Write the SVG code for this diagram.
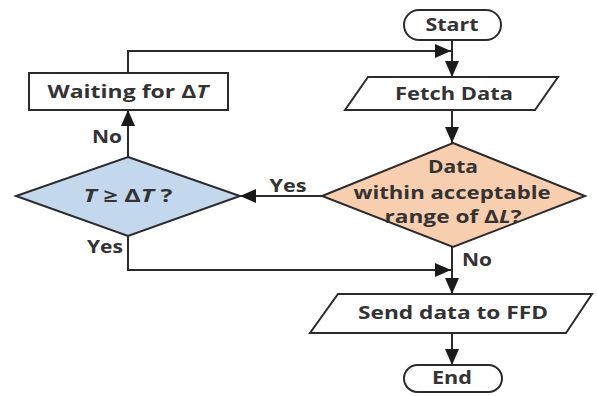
<svg xmlns="http://www.w3.org/2000/svg" width="597" height="396" viewBox="0 0 597 396">
  <style>
    .shape { stroke: #2b2b2b; stroke-width: 2; }
    .plain { fill: #ffffff; }
    .blue { fill: #c3d8ec; }
    .orange { fill: #f7cfae; }
    .wire { fill: none; stroke: #2b2b2b; stroke-width: 2; }
    .label { font-family: "Open Sans", "Liberation Sans", sans-serif; font-weight: bold; font-size: 18px; fill: #333333; text-anchor: middle; }
    .it { font-style: italic; }
  </style>
  <defs>
    <marker id="arrow" markerUnits="userSpaceOnUse" markerWidth="16" markerHeight="14" viewBox="0 0 16 14" refX="16" refY="7" orient="auto">
      <path d="M0,0 L16,7 L0,14 Z" fill="#1a1a1a"/>
    </marker>
  </defs>

  <rect width="597" height="396" fill="#ffffff"/>

  <!-- connectors -->
  <g id="connectors">
    <line class="wire" x1="452" y1="40" x2="452" y2="77" marker-end="url(#arrow)"/>
    <polyline class="wire" points="128,73 128,51 451,51" marker-end="url(#arrow)"/>
    <line class="wire" x1="452" y1="110" x2="452" y2="143" marker-end="url(#arrow)"/>
    <line class="wire" x1="322" y1="196" x2="240" y2="196" marker-end="url(#arrow)"/>
    <line class="wire" x1="128" y1="157" x2="128" y2="110" marker-end="url(#arrow)"/>
    <polyline class="wire" points="128,236 128,270 451,270" marker-end="url(#arrow)"/>
    <line class="wire" x1="452" y1="247" x2="452" y2="294" marker-end="url(#arrow)"/>
    <line class="wire" x1="452" y1="333" x2="452" y2="365" marker-end="url(#arrow)"/>
    <text class="label" x="107" y="143" textLength="30" lengthAdjust="spacingAndGlyphs">No</text>
    <text class="label" x="288" y="192" textLength="37" lengthAdjust="spacingAndGlyphs">Yes</text>
    <text class="label" x="105" y="253" textLength="36" lengthAdjust="spacingAndGlyphs">Yes</text>
    <text class="label" x="477" y="266" textLength="30" lengthAdjust="spacingAndGlyphs">No</text>
  </g>

  <g id="start">
    <rect class="shape plain" x="404" y="10" width="97" height="30" rx="15" ry="15"/>
    <text class="label" x="452" y="31" textLength="53" lengthAdjust="spacingAndGlyphs">Start</text>
  </g>

  <g id="fetch-data">
    <polygon class="shape plain" points="368,77 558,77 535,110 345,110"/>
    <text class="label" x="454" y="100" textLength="118" lengthAdjust="spacingAndGlyphs">Fetch Data</text>
  </g>

  <g id="waiting">
    <rect class="shape plain" x="29" y="73" width="199" height="37"/>
    <text class="label" x="128" y="98" textLength="161" lengthAdjust="spacingAndGlyphs">Waiting for Δ<tspan class="it">T</tspan></text>
  </g>

  <g id="check-range">
    <polygon class="shape orange" points="453,143 585,196 453,247 322,196"/>
    <text class="label" x="453" y="173" textLength="50" lengthAdjust="spacingAndGlyphs">Data</text>
    <text class="label" x="452" y="199" textLength="197" lengthAdjust="spacingAndGlyphs">within acceptable</text>
    <text class="label" x="453" y="223" textLength="137" lengthAdjust="spacingAndGlyphs">range of Δ<tspan class="it">L</tspan>?</text>
  </g>

  <g id="check-time">
    <polygon class="shape blue" points="128,157 240,196 128,236 16,196"/>
    <text class="label" x="128" y="202" textLength="89" lengthAdjust="spacingAndGlyphs"><tspan class="it">T</tspan> ≥ Δ<tspan class="it">T</tspan> ?</text>
  </g>

  <g id="send-data">
    <polygon class="shape plain" points="338,294 592,294 566,333 310,333"/>
    <text class="label" x="453" y="319" textLength="190" lengthAdjust="spacingAndGlyphs">Send data to FFD</text>
  </g>

  <g id="end">
    <rect class="shape plain" x="404" y="365" width="98" height="27" rx="13.5" ry="13.5"/>
    <text class="label" x="452" y="384" textLength="40" lengthAdjust="spacingAndGlyphs">End</text>
  </g>
</svg>
